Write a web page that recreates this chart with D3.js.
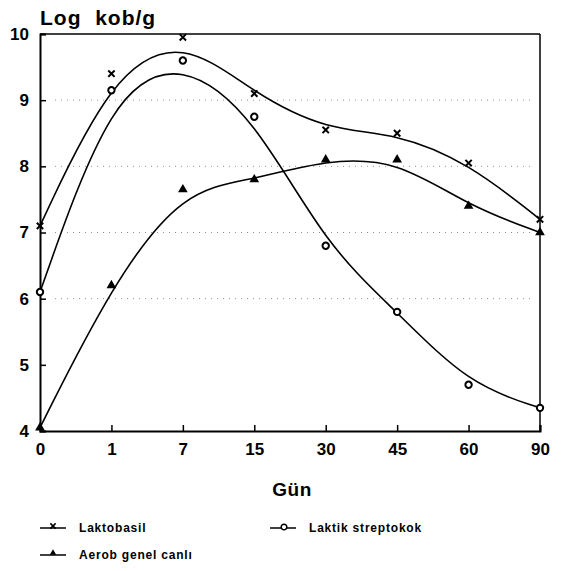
<!DOCTYPE html>
<html><head><meta charset="utf-8">
<script src="https://cdn.jsdelivr.net/npm/d3@7"></script>
<style>
body{margin:0;background:#fff;}
text{font-family:"Liberation Sans",Arial,sans-serif;font-weight:bold;fill:#000;}
</style></head>
<body>
<svg id="c" width="563" height="571"></svg>
<script>
const days = ["0","1","7","15","30","45","60","90"];
const laktobasil = [7.1, 9.4, 9.95, 9.1, 8.55, 8.5, 8.05, 7.2];
const laktikStreptokok = [6.1, 9.15, 9.6, 8.75, 6.8, 5.8, 4.7, 4.35];
const aerobGenelCanli = [4.05, 6.2, 7.65, 7.8, 8.1, 8.1, 7.4, 7.0];
const yTicks = [4,5,6,7,8,9,10];
const gridValues = [6,7,8,9];
const seriesNames = ["Laktobasil","Laktik streptokok","Aerob genel canlı"];

const svg = d3.select("#c");
const L=40,R=540,T=34,B=431;
const x = d3.scalePoint().domain(days).range([L,R]);
const y = d3.scaleLinear().domain([4,10]).range([B,T]);

// grid (sparse dotted)
svg.append("g").selectAll("line").data(gridValues).join("line")
  .attr("x1",L+15).attr("x2",R-5).attr("y1",d=>y(d)).attr("y2",d=>y(d))
  .attr("stroke","#777").attr("stroke-width",0.8).attr("stroke-dasharray","1,5");

// frame
svg.append("line").attr("x1",L).attr("x2",R).attr("y1",T).attr("y2",T).attr("stroke","#000").attr("stroke-width",1.5);
svg.append("line").attr("x1",R).attr("x2",R).attr("y1",T).attr("y2",B).attr("stroke","#000").attr("stroke-width",1.5);

// axes
const xAxis = d3.axisBottom(x).tickSize(-6).tickPadding(12);
const gx = svg.append("g").attr("transform",`translate(0,${B})`).call(xAxis);
gx.select(".domain").attr("stroke-width",2);
gx.selectAll(".tick line").attr("stroke-width",1.5);
gx.selectAll("text").attr("font-size",17).attr("font-family","Liberation Sans, Arial").attr("font-weight","bold").attr("fill","#000");

const yAxis = d3.axisLeft(y).tickValues(yTicks).tickSize(-6).tickPadding(11).tickFormat(d3.format("d"));
const gy = svg.append("g").attr("transform",`translate(${L},0)`).call(yAxis);
gy.select(".domain").attr("stroke-width",2);
gy.selectAll(".tick line").attr("stroke-width",1.5);
gy.selectAll("text").attr("font-size",17).attr("font-family","Liberation Sans, Arial").attr("font-weight","bold").attr("fill","#000");

// titles
svg.append("text").attr("x",40).attr("y",25).attr("font-size",21).attr("letter-spacing",1).attr("xml:space","preserve").text("Log  kob/g");
svg.append("text").attr("x",292).attr("y",496).attr("text-anchor","middle").attr("font-size",19).attr("letter-spacing",0.5).text("Gün");

// curves
const line = d3.line().x((d,i)=>x(days[i])).y(d=>y(d)).curve(d3.curveBasis);
[laktobasil,laktikStreptokok,aerobGenelCanli].forEach(s=>{
  svg.append("path").attr("d",line(s)).attr("fill","none").attr("stroke","#000").attr("stroke-width",1.6);
});

// markers
const sym = {
  x: d3.symbol().type(d3.symbolTimes).size(28),
  o: d3.symbol().type(d3.symbolCircle).size(32),
  a: d3.symbol().type(d3.symbolTriangle).size(22)
};
function mark(g,type,cx,cy){
  if(type==="x") g.append("path").attr("d",sym.x()).attr("transform",`translate(${cx},${cy})`).attr("stroke","#000").attr("stroke-width",2).attr("fill","none");
  else if(type==="o") g.append("path").attr("d",sym.o()).attr("transform",`translate(${cx},${cy})`).attr("stroke","#000").attr("stroke-width",2).attr("fill","#fff");
  else g.append("path").attr("d",sym.a()).attr("transform",`translate(${cx},${cy})`).attr("stroke","#000").attr("stroke-width",1.5).attr("fill","#000");
}
const gm = svg.append("g");
laktobasil.forEach((v,i)=>mark(gm,"x",x(days[i]),y(v)));
laktikStreptokok.forEach((v,i)=>mark(gm,"o",x(days[i]),y(v)));
aerobGenelCanli.forEach((v,i)=>mark(gm,"a",x(days[i]),y(v)));

// legend
const leg = [
  {name:seriesNames[0],t:"x",lx:40,ly:528},
  {name:seriesNames[1],t:"o",lx:270,ly:528},
  {name:seriesNames[2],t:"a",lx:40,ly:555}
];
leg.forEach(d=>{
  svg.append("line").attr("x1",d.lx).attr("x2",d.lx+26).attr("y1",d.ly).attr("y2",d.ly).attr("stroke","#000").attr("stroke-width",1.5);
  const g = svg.append("g");
  if(d.t==="o") g.append("path").attr("d",d3.symbol().type(d3.symbolCircle).size(25)()).attr("transform",`translate(${d.lx+14},${d.ly-1})`).attr("stroke","#000").attr("stroke-width",1.5).attr("fill","#fff");
  else if(d.t==="x") g.append("path").attr("d",d3.symbol().type(d3.symbolTimes).size(20)()).attr("transform",`translate(${d.lx+13},${d.ly-2})`).attr("stroke","#000").attr("stroke-width",1.5);
  else g.append("path").attr("d",d3.symbol().type(d3.symbolTriangle).size(18)()).attr("transform",`translate(${d.lx+13},${d.ly-2})`).attr("fill","#000");
  svg.append("text").attr("x",d.lx+39).attr("y",d.ly+4).attr("font-size",12).attr("letter-spacing",0.8).text(d.name);
});
</script>
</body></html>
